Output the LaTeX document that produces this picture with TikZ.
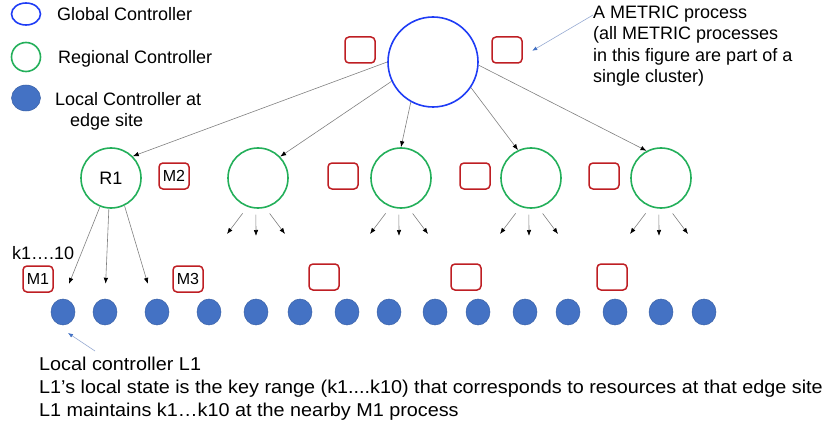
\documentclass[tikz,border=0pt]{standalone}
\usepackage{fontspec}
\setmainfont{Liberation Sans}
\newfontfamily\widefont[FakeStretch=1.065]{Liberation Sans}
\usetikzlibrary{arrows.meta, shapes.geometric, calc}
\definecolor{globalblue}{RGB}{30,60,245}
\definecolor{regiongreen}{RGB}{35,175,90}
\definecolor{metricred}{RGB}{190,30,35}
\definecolor{localblue}{RGB}{68,114,196}
\definecolor{noteblue}{RGB}{150,170,210}

\begin{document}
\begin{tikzpicture}[
    x=1pt, y=-1pt,
    font=\fontsize{18}{21.5}\selectfont,
    gctrl/.style={circle, draw=globalblue, line width=1.6pt, minimum size=90pt, inner sep=0pt},
    rctrl/.style={circle, draw=regiongreen, line width=1.6pt, minimum size=60pt, inner sep=0pt},
    lctrl/.style={ellipse, fill=localblue, draw=localblue!85!black, line width=0.5pt,
                  minimum width=24pt, minimum height=26pt, inner sep=0pt},
    metric/.style={rectangle, draw=metricred, line width=1.5pt, rounded corners=4pt,
                   minimum width=30pt, minimum height=26pt, inner sep=0pt, font=\fontsize{16}{19}\selectfont},
    txt/.style={inner sep=0pt, align=left},
    arrow/.style={-{Latex[length=6pt, width=4.5pt, color=black]}, draw=black!50, line width=0.6pt},
    note arrow/.style={-{Latex[length=5pt, width=4pt, color=localblue]}, draw=noteblue, line width=0.6pt},
]
    \useasboundingbox (0,0) rectangle (827,425);

    % Legend
    \node[ellipse, draw=globalblue, line width=1.6pt, minimum width=29pt, minimum height=22pt, inner sep=0pt] (leg-global) at (26,14) {};
    \node[rctrl, minimum size=29pt] (leg-regional) at (26,57) {};
    \node[lctrl, minimum width=29pt] (leg-local) at (26,98) {};
    \node[txt, anchor=base west] (leg-global-txt) at (57,20.5) {Global Controller};
    \node[txt, anchor=base west] (leg-regional-txt) at (58,64) {Regional Controller};
    \node[txt, anchor=north west] (leg-local-txt) at (55,92) {Local Controller at\\\hspace*{15pt}edge site};

    % Global controller
    \node[gctrl] (global) at (433,62) {};
    \node[metric] (mtop1) at (360,50) {};
    \node[metric] (mtop2) at (507,50) {};

    % Regional controllers
    \node[rctrl] (r1) at (111,178) {R1};
    \node[rctrl] (r2) at (258,178) {};
    \node[rctrl] (r3) at (401,178) {};
    \node[rctrl] (r4) at (531,178) {};
    \node[rctrl] (r5) at (661,178) {};
    \node[metric] (m2) at (174,176) {M2};
    \node[metric] (mmid2) at (343,176) {};
    \node[metric] (mmid3) at (475,176) {};
    \node[metric] (mmid4) at (604,176) {};

    % Local controllers at edge sites
    \node[lctrl] (l1) at (63,312) {};
    \node[lctrl] (l2) at (105,312) {};
    \node[lctrl] (l3) at (157,312) {};
    \node[lctrl] (l4) at (209,312) {};
    \node[lctrl] (l5) at (256,312) {};
    \node[lctrl] (l6) at (300,312) {};
    \node[lctrl] (l7) at (347,312) {};
    \node[lctrl] (l8) at (389,312) {};
    \node[lctrl] (l9) at (435,312) {};
    \node[lctrl] (l10) at (478,312) {};
    \node[lctrl] (l11) at (525,312) {};
    \node[lctrl] (l12) at (568,312) {};
    \node[lctrl] (l13) at (615,312) {};
    \node[lctrl] (l14) at (661,312) {};
    \node[lctrl] (l15) at (704,312) {};
    \node[metric] (m1) at (38,279) {M1};
    \node[metric] (m3) at (188,279) {M3};
    \node[metric] (mbot3) at (324,277) {};
    \node[metric] (mbot4) at (466,277) {};
    \node[metric] (mbot5) at (612,277) {};
    \node[txt, anchor=base west] (keys) at (12,259) {k1\dots.10};

    % Global to regional
    \draw[arrow] (global.180) -- (r1.45);
    \draw[arrow] (global.205) -- (r2.44);
    \draw[arrow] (global.241) -- (r3.90);
    \draw[arrow] (global.326) -- (r4.115);
    \draw[arrow] (global.356) -- (r5.118);

    % R1 to its local controllers
    \draw[arrow, shorten >=16pt] (r1.249) -- (l1.north);
    \draw[arrow, shorten >=15pt] (r1.266) -- (l2.north);
    \draw[arrow, shorten >=16.5pt] (r1.296) -- (l3.110);

    % Other regional controllers
    \foreach \r in {r2, r3, r4, r5} {
        \coordinate (\r-a) at ($(\r)+(-31,56)$);
        \coordinate (\r-b) at ($(\r)+(-2,58)$);
        \coordinate (\r-c) at ($(\r)+(27,56)$);
        \draw[arrow, shorten <=8pt] (\r.250) -- (\r-a);
        \draw[arrow, shorten <=6pt] (\r.266) -- (\r-b);
        \draw[arrow, shorten <=7pt] (\r.284) -- (\r-c);
    }

    % Notes
    \node[txt, anchor=north west] (metric-note) at (593,5.3)
        {A METRIC process\\(all METRIC processes\\in this figure are part of a\\single cluster)};
    \coordinate (metric-tail) at (593,15);
    \draw[note arrow, shorten >=11pt] (metric-tail) -- (mtop2.-22);

    \node[txt, anchor=north west, font=\widefont\fontsize{18.6}{23}\selectfont] (local-note) at (39,357.3)
        {Local controller L1\\L1’s local state is the key range (k1....k10) that corresponds to resources at that edge site\\L1 maintains k1\dots k10 at the nearby M1 process};
    \coordinate (local-tail) at (95,351);
    \coordinate (local-tip) at (68,333);
    \draw[note arrow] (local-tail) -- (local-tip);
\end{tikzpicture}
\end{document}
